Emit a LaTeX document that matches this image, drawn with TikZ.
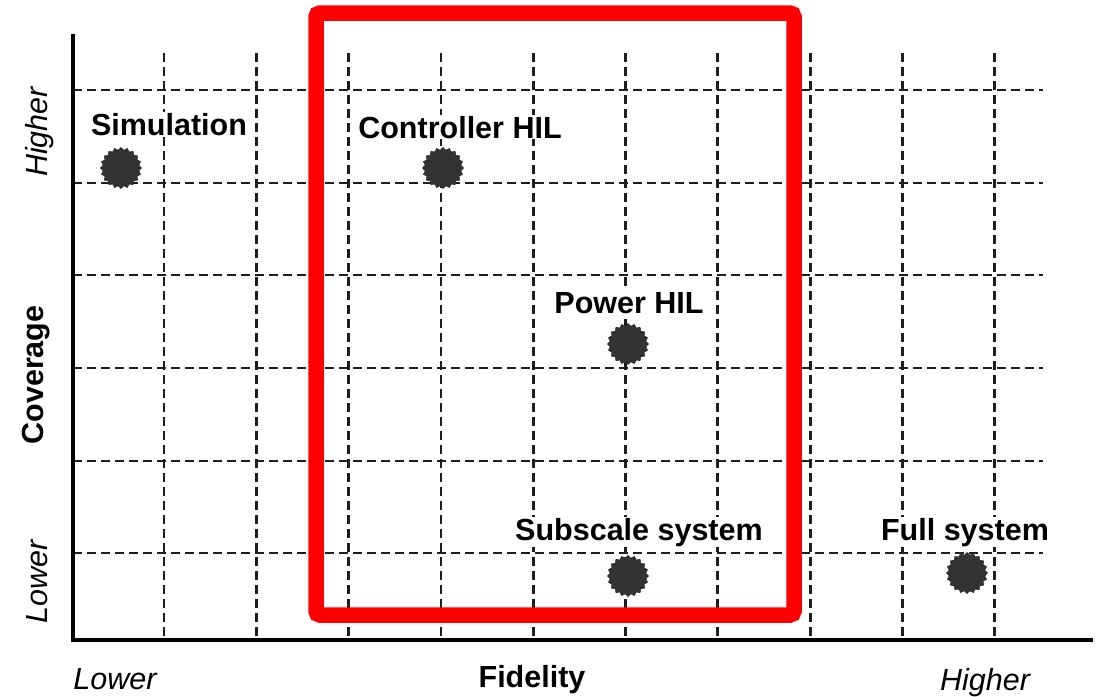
\documentclass[tikz,border=0pt]{standalone}
\usepackage{fontspec}
\setmainfont{Liberation Sans}
\usetikzlibrary{shapes.geometric}
\definecolor{dotgray}{HTML}{333333}
\definecolor{gridgray}{HTML}{1E1E1E}
\begin{document}
\begin{tikzpicture}[x=1pt,y=-1pt,
  gridline/.style={draw=gridgray,line width=2.8pt,dash pattern=on 9pt off 5pt},
  axisline/.style={draw=black,line width=4pt},
  dot/.style={star,star points=20,star point ratio=1.14,minimum size=41pt,inner sep=0pt,fill=dotgray,draw=black!85,line width=0.6pt},
  lbl/.style={font=\fontsize{30.5}{36}\selectfont\bfseries,fill=white,inner sep=1pt,anchor=base},
  endlbl/.style={font=\fontsize{30.5}{36}\selectfont\itshape,inner sep=0pt,anchor=base},
  axlbl/.style={font=\fontsize{30.5}{36}\selectfont\bfseries,inner sep=0pt,anchor=base},
  frame/.style={draw=red,line width=15.5pt,rounded corners=4pt}]
\useasboundingbox (0,0) rectangle (1099,696);
\fill[white] (0,0) rectangle (1099,696);
% dashed grid
\foreach \i in {0,...,9}
  \draw[gridline] ({164+92.3*\i},53) -- ({164+92.3*\i},640);
\foreach \y in {90,183,275,368,461,553}
  \draw[gridline] (73,\y) -- (1043,\y);
% axes
\coordinate (origin) at (73,640);
\coordinate (ytop) at (73,34);
\coordinate (xend) at (1093,640);
\draw[axisline] (ytop) -- (origin) -- (xend);
% labels of the test setups
\node[lbl] (simlbl) at (169,135) {Simulation};
\node[lbl] (chillbl) at (460,138) {Controller HIL};
\node[lbl] (phillbl) at (629,313) {Power HIL};
\node[lbl] (subslbl) at (639,540) {Subscale system};
\node[lbl] (fulllbl) at (965,540) {Full system};
% setup markers
\node[dot] (sim) at (121,168) {};
\node[dot] (chil) at (443,168) {};
\node[dot] (phil) at (628,344) {};
\node[dot] (subs) at (628,576) {};
\node[dot] (full) at (967,573) {};
% axis labels
\node[endlbl] (xlow) at (115,689) {Lower};
\node[axlbl] (xname) at (532,687) {Fidelity};
\node[endlbl] (xhigh) at (985,690) {Higher};
\node[endlbl,rotate=90] (yhigh) at (47,132) {Higher};
\node[axlbl,rotate=90] (yname) at (43,375) {Coverage};
\node[endlbl,rotate=90] (ylow) at (47,582) {Lower};
% highlighted region
\coordinate (fa) at (316,13);
\coordinate (fb) at (794,615);
\draw[frame] (fa) rectangle (fb);
\end{tikzpicture}
\end{document}
